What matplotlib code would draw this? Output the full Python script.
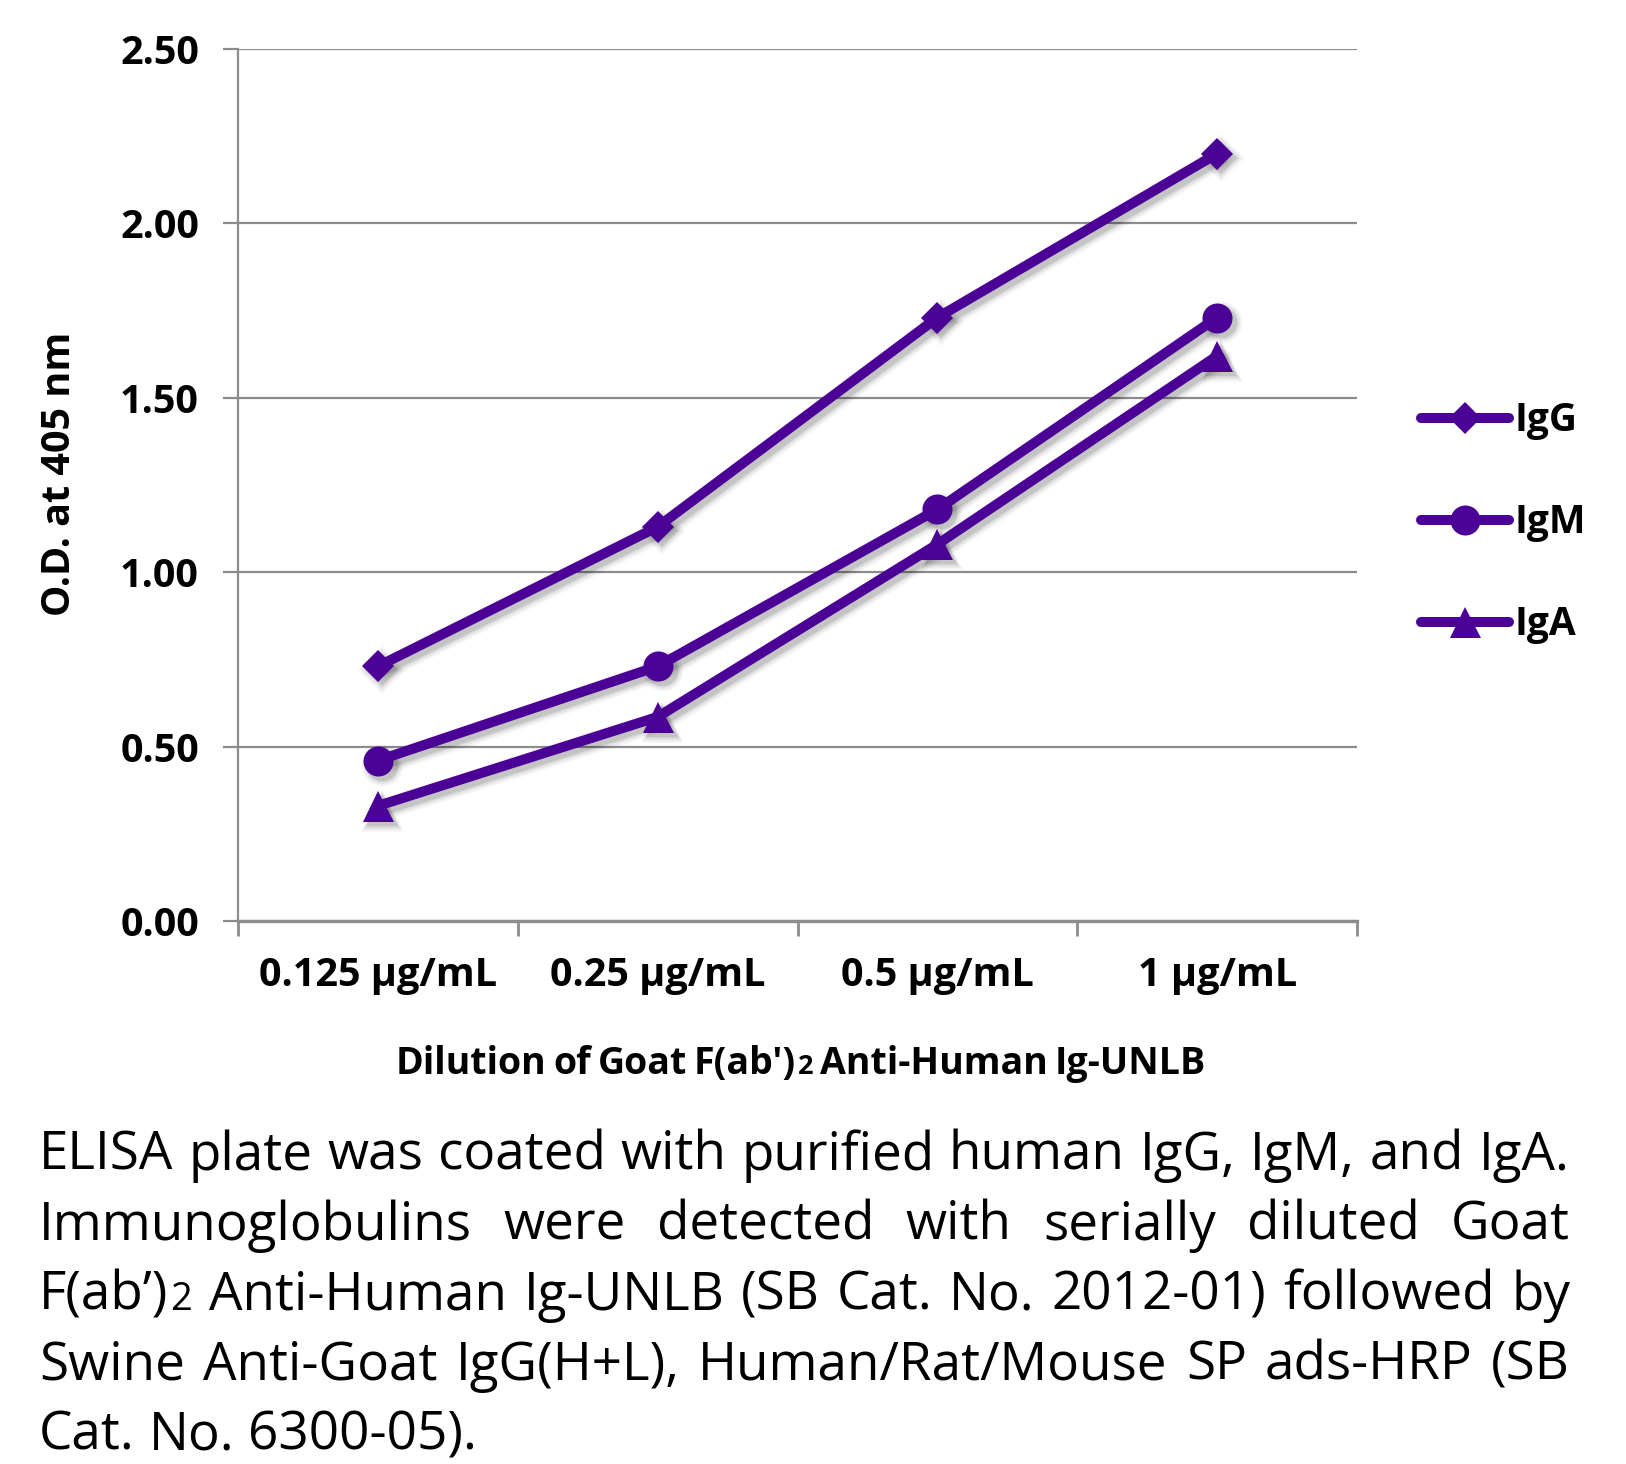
import matplotlib
matplotlib.use('Agg')
import matplotlib.pyplot as plt
from matplotlib import font_manager
from matplotlib.transforms import ScaledTranslation
import numpy as np

# ---------------- data ----------------
categories = ['0.125 µg/mL', '0.25 µg/mL', '0.5 µg/mL', '1 µg/mL']
series_names = ['IgG', 'IgM', 'IgA']
igg = [0.73, 1.13, 1.73, 2.20]
igm = [0.46, 0.73, 1.18, 1.73]
iga = [0.33, 0.585, 1.08, 1.62]
y_ticks = [0.0, 0.5, 1.0, 1.5, 2.0, 2.5]
y_tick_labels = ['0.00', '0.50', '1.00', '1.50', '2.00', '2.50']
x_title = "Dilution of Goat F(ab')₂ Anti-Human Ig-UNLB"
y_title = 'O.D. at 405 nm'
caption_lines = [
    "ELISA plate was coated with purified human IgG, IgM, and IgA.",
    "Immunoglobulins were detected with serially diluted Goat",
    "F(ab’)₂ Anti-Human Ig-UNLB (SB Cat. No. 2012-01) followed by",
    "Swine Anti-Goat IgG(H+L), Human/Rat/Mouse SP ads-HRP (SB",
    "Cat. No. 6300-05).",
]

# ---------------- fonts ----------------
avail = {f.name for f in font_manager.fontManager.ttflist}
def pick(*names):
    for n in names:
        if n in avail:
            return n
    return 'DejaVu Sans'
BODY = pick('Open Sans', 'Noto Sans', 'Lato')
FAM = [BODY, 'DejaVu Sans']
plt.rcParams['font.family'] = FAM

W, H, DPI = 1626, 1464, 100
fig = plt.figure(figsize=(W / DPI, H / DPI), dpi=DPI)
fig.patch.set_facecolor('white')

def fx(px):
    return px / W
def fy(py):
    return 1 - py / H
def pt(px):
    return px * 72 / DPI

ax = fig.add_axes([fx(238), fy(921), fx(1357) - fx(238), fy(49) - fy(921)])

COLOR = '#4B0096'
GRID = '#8c8c8c'
LW = pt(10)
markers = ['D', 'o', '^']
msizes = [pt(22), pt(30), pt(31)]
x = np.arange(len(categories))
series = [igg, igm, iga]

main_lines = []
for vals, name, m, ms in zip(series, series_names, markers, msizes):
    off = ScaledTranslation(4 / DPI, -4 / DPI, fig.dpi_scale_trans)
    for extra, a in [(12, 0.035), (8, 0.05), (4, 0.07), (1, 0.09)]:
        ax.plot(x, vals, color='black', alpha=a, lw=LW + pt(extra), marker=m,
                ms=ms + pt(extra), mew=0, transform=ax.transData + off,
                solid_capstyle='round', solid_joinstyle='round', zorder=2)
    ln, = ax.plot(x, vals, color=COLOR, lw=LW, marker=m, ms=ms, mew=0, label=name,
                  solid_capstyle='round', solid_joinstyle='round', zorder=3)
    main_lines.append(ln)

TICK_FS = 28.5
ax.set_xlim(-0.5, len(categories) - 0.5)
ax.set_ylim(0, 2.5)
ax.set_yticks(y_ticks)
ax.set_yticklabels(y_tick_labels, fontweight='bold', fontsize=TICK_FS)
ax.yaxis.grid(True, color=GRID, lw=1.6)
ax.set_axisbelow(True)
ax.tick_params(axis='y', length=pt(15), width=1.6, color=GRID, pad=pt(24))
ax.set_xticks(x)
ax.set_xticklabels(categories, fontweight='bold', fontsize=TICK_FS)
ax.set_xticks(np.arange(-0.5, len(categories), 1), minor=True)
ax.tick_params(axis='x', which='major', length=0, pad=pt(35))
ax.tick_params(axis='x', which='minor', length=pt(15), width=2.0, color=GRID)
for s in ['top', 'right']:
    ax.spines[s].set_visible(False)
ax.spines['left'].set_color(GRID)
ax.spines['left'].set_linewidth(1.6)
ax.spines['bottom'].set_color(GRID)
ax.spines['bottom'].set_linewidth(2.4)

fig.text(fx(59), fy(474), y_title, rotation=90, ha='center', va='center',
         fontweight='bold', fontsize=28.5)

leg = fig.legend(handles=main_lines, labels=series_names,
                 loc='center left', bbox_to_anchor=(fx(1421), fy(523)),
                 frameon=False, borderpad=0, borderaxespad=0,
                 handlelength=2.26, handletextpad=0.15, labelspacing=1.62,
                 prop={'weight': 'bold', 'size': 28, 'family': FAM})

# ---------------- text helpers ----------------
fig.canvas.draw()
renderer = fig.canvas.get_renderer()

def text_w(s, fs, weight):
    t = fig.text(0, 0, s, fontsize=fs, fontweight=weight)
    w = t.get_window_extent(renderer).width
    t.remove()
    return w

def word_pieces(word):
    parts = word.split('₂')
    pieces = []
    for i, p in enumerate(parts):
        if p:
            pieces.append((p, False))
        if i < len(parts) - 1:
            pieces.append(('2', True))
    return pieces

SMALL = 0.72

def word_w(word, fs, weight):
    return sum(text_w(p, fs * (SMALL if sm else 1), weight) + (2 if sm else 0)
               for p, sm in word_pieces(word))

def draw_word(xpx, ybase, word, fs, weight):
    xc = xpx
    for p, sm in word_pieces(word):
        f = fs * (SMALL if sm else 1)
        if sm:
            xc += 2
        fig.text(fx(xc), fy(ybase), p, fontsize=f, fontweight=weight,
                 ha='left', va='baseline')
        xc += text_w(p, f, weight)

def space_w(fs, weight):
    return text_w('n n', fs, weight) - 2 * text_w('n', fs, weight)

# x-axis title (centered)
XT_FS = 27
words = x_title.split(' ')
sw = space_w(XT_FS, 'bold') * 0.7
tot = sum(word_w(w, XT_FS, 'bold') for w in words) + sw * (len(words) - 1)
xc = 801 - tot / 2
for w in words:
    draw_word(xc, 1074, w, XT_FS, 'bold')
    xc += word_w(w, XT_FS, 'bold') + sw

# caption, justified
CAP_L, CAP_R = 39, 1570
avail_w = CAP_R - CAP_L
fs = 42.0
nat = []
for line in caption_lines:
    ws = line.split(' ')
    nat.append(sum(word_w(w, fs, 'normal') for w in ws) + space_w(fs, 'normal') * (len(ws) - 1))
fs = min(fs, fs * avail_w / max(nat) * 0.995)
baselines = [1170, 1240, 1310, 1380, 1449]
for i, (line, yb) in enumerate(zip(caption_lines, baselines)):
    ws = line.split(' ')
    widths = [word_w(w, fs, 'normal') for w in ws]
    if i < len(caption_lines) - 1 and len(ws) > 1:
        gap = (avail_w - sum(widths)) / (len(ws) - 1)
    else:
        gap = space_w(fs, 'normal')
    xc = CAP_L
    for w, wd in zip(ws, widths):
        draw_word(xc, yb, w, fs, 'normal')
        xc += wd + gap

fig.savefig('out.png', dpi=DPI, facecolor='white')
